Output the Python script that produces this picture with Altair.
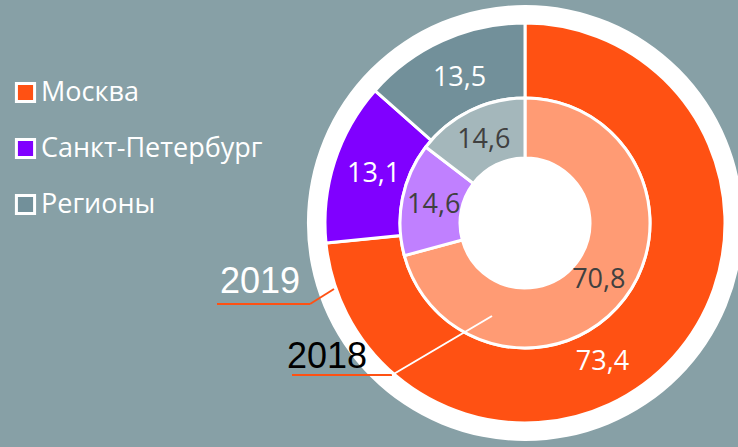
import math
import altair as alt
import pandas as pd

# ---- data ----
regions = ["Москва", "Санкт-Петербург", "Регионы"]
values_2019 = [73.4, 13.1, 13.5]
values_2018 = [70.8, 14.6, 14.6]
outer_colors = ["#FF5113", "#8000FF", "#72909A"]
inner_colors = ["#FF9B74", "#C080FF", "#A4B7BB"]
years = ["2019", "2018"]

rows = []
for i, r in enumerate(regions):
    rows.append({"region": r, "idx": i, "year": 2019, "value": values_2019[i]})
    rows.append({"region": r, "idx": i, "year": 2018, "value": values_2018[i]})
df = pd.DataFrame(rows)

CX, CY = 525, 223
BG = "#87A0A6"
FONT = "Open Sans"
TWO_PI = 2 * math.pi

base = alt.Chart(df)

white_disc = alt.Chart(pd.DataFrame({"a": [1]})).mark_arc(
    radius=218, theta=0, theta2=TWO_PI, color="white"
).encode(x=alt.value(CX), y=alt.value(CY))

outer = base.transform_filter("datum.year == 2019").mark_arc(
    radius=200, radius2=125, stroke="white", strokeWidth=3
).encode(
    theta=alt.Theta("value:Q", stack=True),
    order=alt.Order("idx:Q"),
    color=alt.Color(
        "region:N",
        scale=alt.Scale(domain=regions, range=outer_colors),
        sort=regions,
        legend=alt.Legend(
            title=None, orient="none", legendX=12, legendY=79,
            symbolType="square", symbolSize=330, symbolStrokeColor="white",
            symbolStrokeWidth=3, symbolOpacity=1,
            labelFont=FONT, labelFontSize=27, labelColor="white",
            labelOffset=2, rowPadding=25, labelLimit=400,
        ),
    ),
    x=alt.value(CX), y=alt.value(CY),
)

inner = base.transform_filter("datum.year == 2018").mark_arc(
    radius=125, radius2=65, stroke="white", strokeWidth=3
).encode(
    theta=alt.Theta("value:Q", stack=True),
    order=alt.Order("idx:Q"),
    fill=alt.Fill("region:N", scale=alt.Scale(domain=regions, range=inner_colors), legend=None),
    x=alt.value(CX), y=alt.value(CY),
)

def label_layer(year, radius, color, shift_expr):
    return base.transform_filter(f"datum.year == {year}").transform_window(
        cum="sum(value)", sort=[{"field": "idx"}]
    ).transform_calculate(
        mid=f"datum.cum - datum.value / 2 + ({shift_expr})",
        label="replace(format(datum.value, '.1f'), '.', ',')",
    ).mark_text(
        radius=radius, font=FONT, fontSize=27, color=color, align="center", baseline="middle"
    ).encode(
        theta=alt.Theta("mid:Q", scale=alt.Scale(domain=[0, 100], range=[0, TWO_PI])),
        text="label:N",
        x=alt.value(CX), y=alt.value(CY),
    )

outer_labels = label_layer(2019, 159, "white", "datum.idx == 0 ? 5.2 : 0")
inner_labels = label_layer(2018, 93, "#404040", "0")

def seg(x1, y1, x2, y2, color):
    return alt.Chart(pd.DataFrame({"a": [1]})).mark_rule(
        color=color, strokeWidth=2
    ).encode(x=alt.value(x1), y=alt.value(y1), x2=alt.value(x2), y2=alt.value(y2))

lines = [
    seg(217, 304, 310, 304, "#FF5113"),
    seg(310, 304, 334, 289, "#FF5113"),
    seg(292, 375, 392, 375, "#FF5113"),
    seg(392, 375, 492, 316, "white"),
]

def year_text(t, x, y, color):
    return alt.Chart(pd.DataFrame({"t": [t]})).mark_text(
        font="Liberation Sans", fontSize=36, color=color, align="left", baseline="alphabetic"
    ).encode(text="t:N", x=alt.value(x), y=alt.value(y))

t2019 = year_text(years[0], 220, 293, "white")
t2018 = year_text(years[1], 287, 368, "black")

chart = alt.layer(
    white_disc, outer, inner, outer_labels, inner_labels, *lines, t2019, t2018
).resolve_scale(theta="independent").properties(
    width=738, height=447, autosize=alt.AutoSizeParams(type="none"), padding=0, background=BG
).configure_view(stroke=None)

chart.save("out.html", embed_options={"renderer": "svg", "actions": False})
